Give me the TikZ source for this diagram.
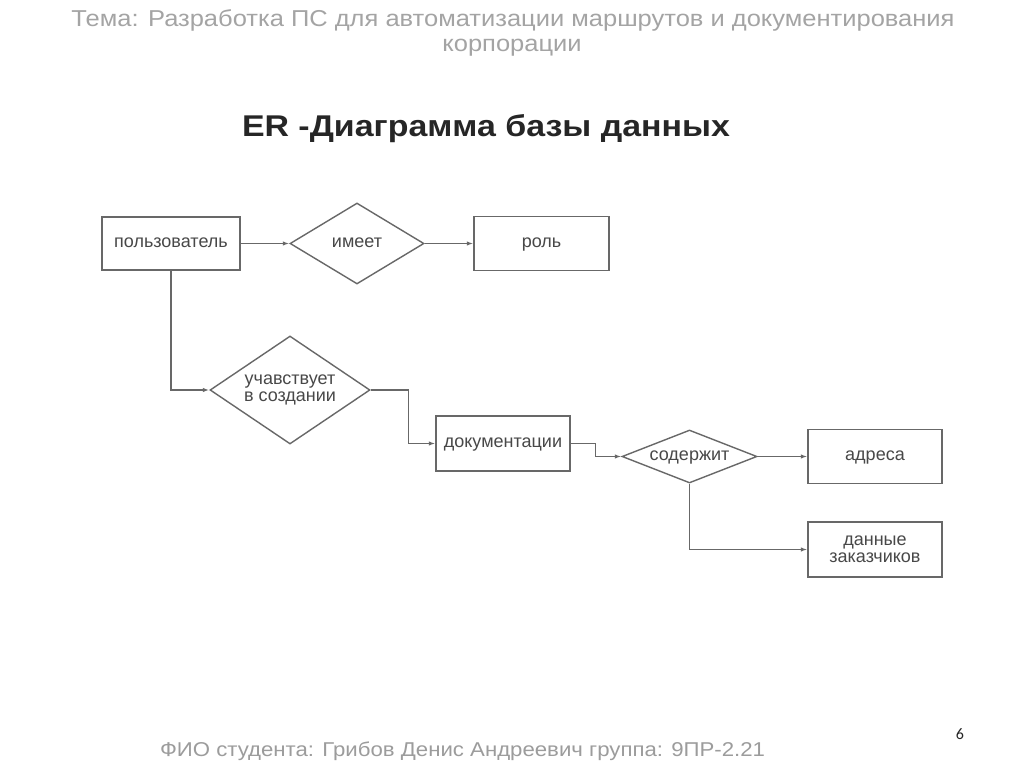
\documentclass[tikz,border=0pt]{standalone}
\usepackage{fontspec}
\setmainfont{Liberation Sans}
\newfontfamily\pgnumfont{Carlito}
\usetikzlibrary{shapes.geometric,arrows.meta}
\newlength\fitlen
\newcommand\fitto[2]{\settowidth\fitlen{#2}\pgfmathsetmacro\fitfac{#1/\fitlen}\xdef\fitfacg{\fitfac}\scalebox{\fitfac}[1]{#2}}
\definecolor{linec}{HTML}{686868}
\definecolor{txtc}{HTML}{484848}
\definecolor{headc}{HTML}{A4A4A4}
\definecolor{footc}{HTML}{9C9C9C}
\definecolor{titc}{HTML}{262626}
\begin{document}
\begin{tikzpicture}[x=1pt,y=-1pt,
  dfont/.style={font=\fontsize{18}{19}\selectfont},
  one/.style={text height=1ex+2pt, text depth=0pt},
  ent/.style={draw=linec, line width=1.4pt, inner sep=0pt, dfont, text=txtc, align=center},
  rel/.style={diamond, draw=linec, line width=1.4pt, inner sep=0pt, dfont, text=txtc, align=center},
  conn/.style={draw=linec, line width=1.4pt, -{Latex[length=6.5pt,width=4.5pt]}},
  head/.style={font=\fontsize{23}{25}\selectfont, text=headc, anchor=base}]
\useasboundingbox[fill=white] (0,0) rectangle (1024,767);

% header
\node[head] (t1) at (513,27) {\fitto{883pt}{Тема: Разработка ПС для автоматизации маршрутов и документирования}};
\node[head] (t2) at (512,52) {\scalebox{\fitfacg}[1]{корпорации}};
\node[font=\fontsize{30}{32}\selectfont\bfseries, text=titc, anchor=base] (er) at (486,137) {\fitto{488pt}{ER -Диаграмма базы данных}};

% entities
\node[ent, one, minimum width=138pt, minimum height=53pt] (u) at (171,243.5) {пользователь};
\node[ent, one, minimum width=135pt, minimum height=54pt] (r) at (541.5,243.5) {роль};
\node[ent, one, minimum width=134pt, minimum height=55pt] (d) at (503,443.5) {документации};
\node[ent, one, minimum width=134pt, minimum height=54pt] (a) at (875,456.5) {адреса};
\node[ent, minimum width=134pt, minimum height=55pt] (z) at (875,549.5) {данные\\[-2pt]заказчиков};

% relationships
\node[rel, one, aspect=1.6, minimum width=134pt, minimum height=81pt] (h) at (357,243.5) {имеет};
\node[rel, aspect=1.6, minimum width=160pt, minimum height=108pt] (p) at (290,390) {учавствует\\[-2pt]в создании};
\node[rel, one, aspect=2.8, minimum width=135pt, minimum height=53pt] (s) at (689.5,456.5) {содержит};

% connectors
\draw[conn] (u.east) -- (h.west);
\draw[conn] (h.east) -- (r.west);
\draw[conn] (u.south) |- (p.west);
\draw[conn] (p.east) -- ++(38,0) |- (d.west);
\draw[conn] (d.east) -- ++(25,0) |- (s.west);
\draw[conn] (s.east) -- (a.west);
\draw[conn] (s.south) |- (z.west);

% footer
\node[font=\fontsize{20}{22}\selectfont, text=footc, anchor=base] (f) at (462.5,756) {\fitto{605pt}{ФИО студента: Грибов Денис Андреевич группа: 9ПР-2.21}};
\node[font=\pgnumfont\fontsize{16}{18}\selectfont, text=titc, anchor=base] (pg) at (960,739) {6};
\end{tikzpicture}
\end{document}
